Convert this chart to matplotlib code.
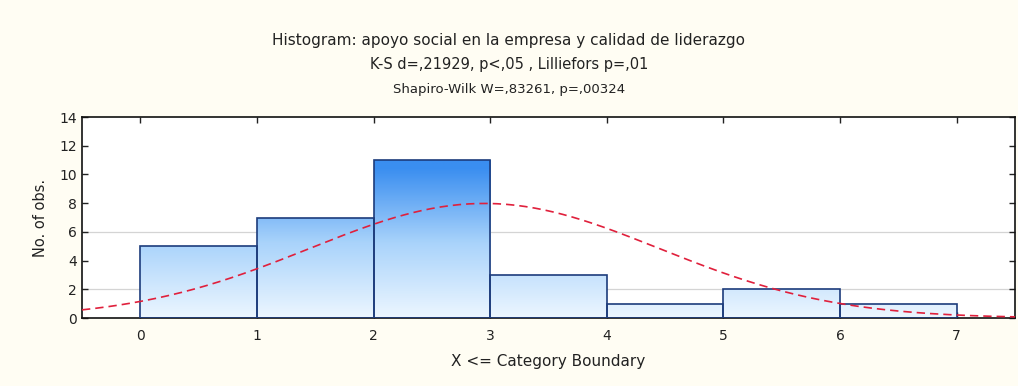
import numpy as np
import matplotlib
matplotlib.use('Agg')
from matplotlib import pyplot as plt
from matplotlib.colors import LinearSegmentedColormap

# histogram data (upper category boundaries)
edges = [0, 1, 2, 3, 4, 5, 6, 7]
counts = [5, 7, 11, 3, 1, 2, 1]
xticks = [0, 1, 2, 3, 4, 5, 6, 7]
yticks = [0, 2, 4, 6, 8, 10, 12, 14]
grid_y = [2, 6]

# fitted normal curve parameters (estimated)
fit_mean = 2.95
fit_sd = 1.5
n_obs = sum(counts)

title_lines = ["Histogram: apoyo social en la empresa y calidad de liderazgo",
               "K-S d=,21929, p<,05 , Lilliefors p=,01",
               "Shapiro-Wilk W=,83261, p=,00324"]
title_sizes = [11, 10.5, 9.5]

fig = plt.figure(figsize=(10.18, 3.86), dpi=100, facecolor='#fffdf3')
ax = fig.add_axes([82/1018, 1-318/386, (1015-82)/1018, (318-117)/386])
ax.set_facecolor('white')

cmap = LinearSegmentedColormap.from_list('bl', ['#ecf6ff', '#a9d3fb', '#3a8ef0'])
for i, c in enumerate(counts):
    x0, x1 = edges[i], edges[i+1]
    bar = ax.bar(x0, c, width=x1-x0, align='edge', facecolor='none',
                 edgecolor='#1d3c7c', linewidth=1.2, zorder=3)[0]
    grad = np.linspace(c, 0, 100).reshape(-1, 1)
    im = ax.imshow(grad, extent=(x0, x1, 0, c), aspect='auto', cmap=cmap,
                   vmin=0, vmax=10.5, zorder=2)
    im.set_clip_path(bar)

for g in grid_y:
    ax.axhline(g, color='#d4d4d4', linewidth=0.9, zorder=1)

xs = np.linspace(-0.5, 7.5, 300)
ys = n_obs * np.exp(-(xs-fit_mean)**2/(2*fit_sd**2)) / (fit_sd*np.sqrt(2*np.pi))
ax.plot(xs, ys, color='#e0203c', linewidth=1.2, dashes=(5, 3), zorder=4)

ax.set_xlim(-0.5, 7.5)
ax.set_ylim(0, 14)
ax.set_xticks(xticks)
ax.set_yticks(yticks)
ax.tick_params(axis='both', labelsize=10, colors='#222222', length=4, width=1)
ax.tick_params(axis='x', top=True, direction='in', pad=8)
ax.tick_params(axis='y', right=True, direction='in')
for s in ax.spines.values():
    s.set_color('#111111')
    s.set_linewidth(1.2)

ax.set_xlabel('X <= Category Boundary', fontsize=11, color='#222222', labelpad=8)
ax.set_ylabel('No. of obs.', fontsize=10.5, color='#222222', labelpad=8)

for k, t in enumerate(title_lines):
    fig.text(0.5, 1-(40+25*k)/386, t, ha='center', va='center',
             fontsize=title_sizes[k], color='#222222')

plt.savefig('out.png', dpi=100, facecolor=fig.get_facecolor())
